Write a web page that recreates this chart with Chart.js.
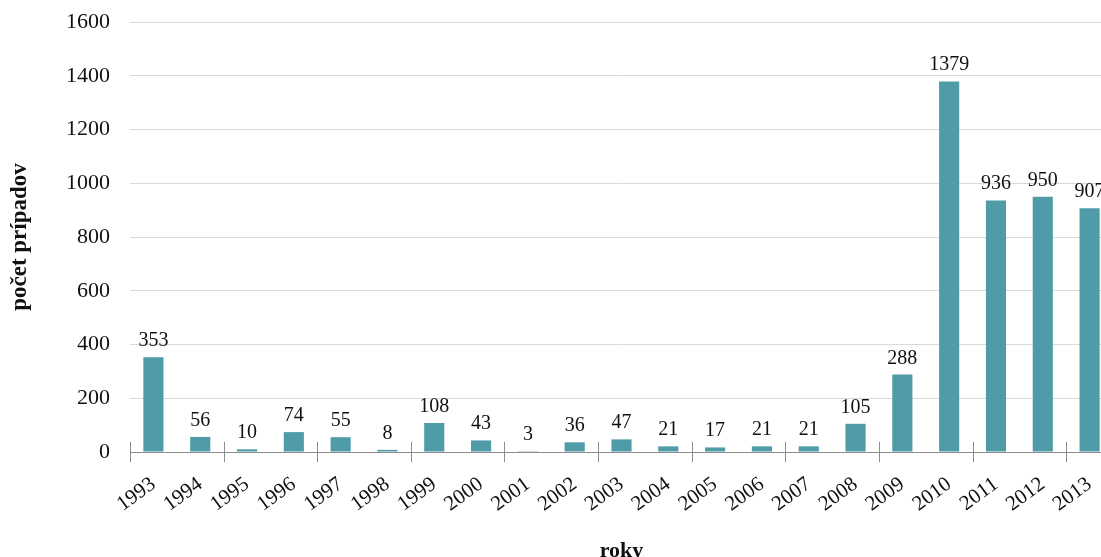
<!DOCTYPE html>
<html>
<head>
<meta charset="utf-8">
<script src="https://cdn.jsdelivr.net/npm/chart.js@4"></script>
<style>
  html, body { margin: 0; padding: 0; background: #fff; overflow: hidden; }
  #wrap { width: 1101px; height: 557px; overflow: hidden; position: relative; }
  #box { width: 1120px; height: 565px; position: absolute; left: 0; top: 0; }
</style>
</head>
<body>
<div id="wrap"><div id="box"><canvas id="chart"></canvas></div></div>
<script>
const years = ['1993', '1994', '1995', '1996', '1997', '1998', '1999', '2000', '2001', '2002', '2003',
  '2004', '2005', '2006', '2007', '2008', '2009', '2010', '2011', '2012', '2013'];
const cases = [353, 56, 10, 74, 55, 8, 108, 43, 3, 36, 47, 21, 17, 21, 21, 105, 288, 1379, 936, 950, 907];
const yTicks = [0, 200, 400, 600, 800, 1000, 1200, 1400, 1600];

const FONT = '"Liberation Serif", "Times New Roman", serif';
const BAR = '#4f9ba8';
const H = 565;

// value above each bar
const barLabels = {
  id: 'barLabels',
  afterDatasetsDraw(chart) {
    const ctx = chart.ctx;
    const meta = chart.getDatasetMeta(0);
    ctx.save();
    ctx.font = '20px ' + FONT;
    ctx.fillStyle = '#111';
    ctx.textAlign = 'center';
    ctx.textBaseline = 'alphabetic';
    meta.data.forEach((bar, i) => {
      ctx.fillText(String(cases[i]), bar.x, bar.y - 11);
    });
    ctx.restore();
  }
};

// tick marks crossing the category axis, one every two years
const axisTicks = {
  id: 'axisTicks',
  afterDraw(chart) {
    const x = chart.scales.x;
    const ctx = chart.ctx;
    const step = x.width / years.length;
    const y0 = chart.scales.y.getPixelForValue(0);
    ctx.save();
    ctx.strokeStyle = '#8c8c8c';
    ctx.lineWidth = 1;
    for (let i = 0; i <= years.length; i += 2) {
      const px = Math.round(x.left + i * step) + 0.5;
      ctx.beginPath();
      ctx.moveTo(px, y0 - 10);
      ctx.lineTo(px, y0 + 10);
      ctx.stroke();
    }
    ctx.restore();
  }
};

new Chart(document.getElementById('chart'), {
  type: 'bar',
  data: {
    labels: years,
    datasets: [{
      data: cases,
      backgroundColor: BAR,
      borderWidth: 0,
      categoryPercentage: 1,
      barPercentage: 0.43
    }]
  },
  options: {
    responsive: true,
    maintainAspectRatio: false,
    animation: false,
    layout: { padding: { left: 6, right: 7, top: 22, bottom: 0 } },
    plugins: { legend: { display: false }, tooltip: { enabled: false } },
    scales: {
      x: {
        grid: { display: false },
        border: { display: true, color: '#8c8c8c', width: 1 },
        ticks: {
          color: '#111',
          font: { family: FONT, size: 21 },
          minRotation: 36,
          maxRotation: 36,
          autoSkip: false,
          padding: 12
        },
        title: {
          display: true,
          text: 'roky',
          color: '#111',
          font: { family: FONT, size: 22, weight: 'bold' },
          padding: { top: 0, bottom: 0 }
        },
        afterFit(scale) { scale.height = H - 452; }
      },
      y: {
        min: 0,
        max: 1600,
        afterBuildTicks(scale) { scale.ticks = yTicks.map(v => ({ value: v })); },
        grid: { color: '#d9d9d9', drawTicks: false },
        border: { display: false },
        ticks: {
          color: '#111',
          font: { family: FONT, size: 22 },
          padding: 20,
          callback: v => String(v)
        },
        title: {
          display: true,
          text: 'počet prípadov',
          color: '#111',
          font: { family: FONT, size: 23, weight: 'bold' },
          padding: { top: 0, bottom: 0 }
        },
        afterFit(scale) {
          scale.width = 124;
          scale.paddingTop = 0;
          scale.paddingBottom = 0;
        }
      }
    }
  },
  plugins: [barLabels, axisTicks]
});
</script>
</body>
</html>
